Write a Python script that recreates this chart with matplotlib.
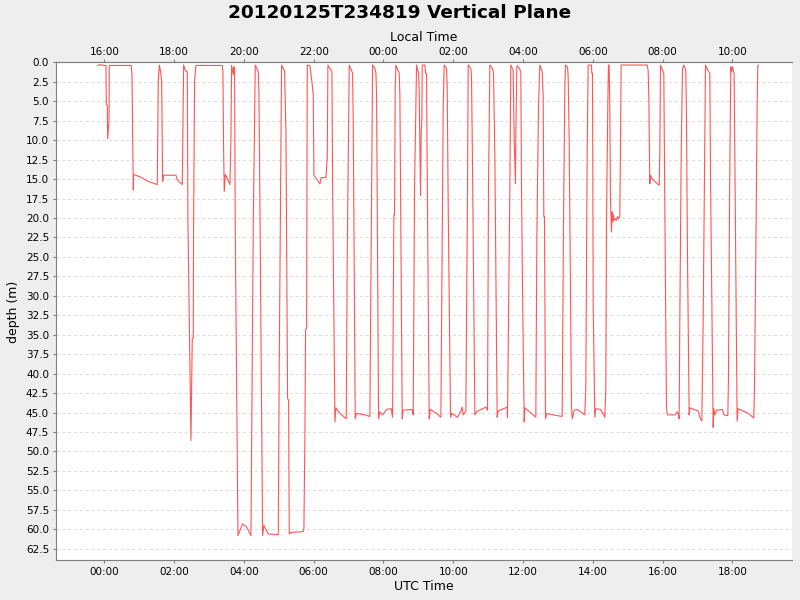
import numpy as np
import matplotlib.pyplot as plt

# hours since 2012-01-26 00:00 UTC, depth in metres
time_h = [
    -0.203, -0.098, 0.007, 0.046, 0.055, 0.084, 0.093, 0.132, 0.141, 0.771,
    0.791, 0.829, 0.838, 1.02, 1.26, 1.516, 1.545, 1.574, 1.603, 1.641,
    1.669, 1.698, 2.052, 2.09, 2.233, 2.252, 2.271, 2.328, 2.376, 2.395,
    2.481, 2.519, 2.548, 2.557, 2.586, 2.624, 3.379, 3.398, 3.417, 3.436,
    3.465, 3.503, 3.599, 3.627, 3.646, 3.694, 3.713, 3.732, 3.751, 3.828,
    3.962, 4.076, 4.201, 4.268, 4.325,
    4.363, 4.411, 4.430, 4.458, 4.535, 4.573, 4.697, 4.984, 5.012, 5.051,
    5.079, 5.165, 5.204, 5.251, 5.280, 5.299, 5.366, 5.700, 5.719, 5.748,
    5.767, 5.796, 5.815, 5.891, 5.949, 5.987, 6.006, 6.178, 6.216, 6.350,
    6.388, 6.407, 6.522, 6.541, 6.608, 6.637, 6.751, 6.933, 6.961, 7.018,
    7.114, 7.133, 7.190, 7.228, 7.467, 7.610, 7.639, 7.687, 7.754, 7.783,
    7.802, 7.859, 7.897, 7.974, 8.089, 8.222, 8.260, 8.298, 8.317, 8.336,
    8.355, 8.451, 8.470, 8.537, 8.566, 8.833, 8.852, 8.890, 8.948,
    8.976, 9.005, 9.024, 9.062, 9.081, 9.100, 9.110, 9.186, 9.205, 9.234,
    9.253, 9.310, 9.339, 9.520, 9.645, 9.683, 9.712, 9.740, 9.807, 9.826,
    9.855, 9.922, 9.950, 10.122, 10.218, 10.256, 10.285, 10.361, 10.380, 10.409,
    10.428, 10.504, 10.523, 10.552, 10.619, 10.667, 10.934, 10.982, 11.010, 11.049,
    11.125, 11.154, 11.192, 11.259, 11.288, 11.546, 11.555, 11.584, 11.622, 11.650,
    11.717, 11.746, 11.784, 11.794, 11.823, 11.842, 11.909, 11.937, 11.956, 11.985,
    12.033, 12.052, 12.243, 12.367, 12.396, 12.444, 12.482, 12.549, 12.577, 12.596,
    12.615, 12.644, 12.683, 12.864, 13.122, 13.160, 13.198, 13.217, 13.275, 13.294,
    13.322, 13.389, 13.409, 13.466, 13.561, 13.676,
    13.771, 13.799, 13.818, 13.838, 13.866, 13.962, 13.971, 13.990, 14.000, 14.010,
    14.057, 14.086, 14.220, 14.315, 14.344, 14.373, 14.392, 14.430, 14.449, 14.468,
    14.487, 14.506, 14.535, 14.554, 14.573, 14.592, 14.611, 14.640, 14.678, 14.707,
    14.735, 14.774, 14.793, 14.812, 15.557, 15.586, 15.605, 15.634, 15.653, 15.710,
    15.806, 15.902, 15.921, 15.940, 15.997, 16.035, 16.064, 16.112, 16.140, 16.351,
    16.418, 16.456, 16.475, 16.494, 16.533, 16.571, 16.609, 16.666, 16.686, 16.714,
    16.762, 16.781, 17.020, 17.067, 17.125, 17.163, 17.201, 17.230, 17.297, 17.354,
    17.373, 17.450, 17.469, 17.497, 17.545, 17.717, 17.755, 17.870, 17.889, 17.918,
    17.956, 17.975, 18.004, 18.032, 18.051, 18.080, 18.137, 18.166, 18.309, 18.453,
    18.615, 18.634, 18.672, 18.711, 18.730, 18.749,
]
depth_m = [
    0.39, 0.30, 0.39, 0.39, 5.4, 5.5, 9.8, 7.6, 0.39, 0.39,
    1.7, 16.4, 14.4, 14.7, 15.3, 15.7, 2.3, 0.34, 1.0, 2.3,
    15.3, 14.5, 14.5, 15.1, 15.7, 7.6, 0.34, 1.1, 1.2, 20.5,
    48.6, 35.4, 35.4, 20.5, 2.3, 0.39, 0.39, 1.2, 11.1, 16.6,
    14.4, 14.7, 15.7, 9.8, 0.39, 1.6, 0.56, 1.0, 21.1, 60.8,
    59.3, 59.7, 60.8, 20.5, 0.34,
    0.69, 1.2, 3.8, 18.3, 60.8, 59.5, 60.6, 60.7, 38.9, 16.2,
    0.34, 1.1, 8.9, 43.2, 43.4, 60.6, 60.4, 60.3, 59.9, 47.9,
    34.3, 34.2, 0.34, 0.43, 2.5, 4.2, 14.5, 15.6, 14.8, 14.8,
    12.3, 0.34, 1.2, 15.3, 46.2, 44.4, 45.1, 45.8, 24.8, 0.34,
    1.4, 7.6, 45.8, 45.1, 45.3, 45.5, 29.1, 0.34, 0.77, 1.4,
    4.2, 45.8, 44.9, 45.3, 44.6, 44.5, 45.6, 19.6, 19.6, 3.3,
    0.34, 1.4, 4.2, 45.8, 44.7, 44.6, 45.3, 16.2, 0.34,
    1.0, 1.2, 3.8, 17.1, 8.9, 7.6, 0.34, 0.34, 1.4, 1.4,
    13.6, 45.8, 44.6, 45.1, 45.6, 22.6, 5.9, 0.34, 0.77, 3.1,
    18.3, 45.6, 45.1, 45.6, 44.8, 44.3, 45.3, 44.8, 33.3, 16.2,
    0.34, 0.77, 1.8, 13.2, 45.3, 44.9, 44.3, 44.7, 16.2, 0.34,
    0.77, 1.4, 11.9, 45.6, 44.8, 44.3, 45.6, 33.3, 16.2, 0.34,
    1.0, 9.8, 15.6, 8.9, 0.56, 0.43, 0.86, 1.4, 15.8, 29.1,
    46.2, 44.4, 45.1, 45.6, 22.6, 5.5, 0.34, 1.2, 4.2, 19.8,
    19.8, 45.8, 45.1, 45.3, 45.5, 20.5, 3.3, 0.34, 0.56, 1.8,
    9.8, 44.1, 45.8, 44.7, 44.6, 45.0,
    45.3, 41.9, 27.3, 11.9, 0.34, 0.34, 1.4, 1.4, 13.2, 30.8,
    45.6, 44.5, 44.6, 45.3, 45.6, 41.9, 20.5, 5.5, 0.34, 0.34,
    5.5, 17.5, 21.8, 19.2, 20.5, 19.6, 20.3, 20.1, 20.3, 19.8,
    20.1, 19.8, 11.5, 0.34, 0.34, 1.0, 4.2, 15.6, 14.5, 15.0,
    15.4, 15.8, 11.9, 0.34, 1.0, 1.4, 18.3, 44.4, 45.3, 45.3,
    44.9, 45.3, 45.8, 33.3, 11.9, 0.77, 0.34, 1.0, 7.6, 24.8,
    45.3, 44.4, 44.8, 45.6, 46.1, 33.3, 14.1, 0.34, 1.0, 1.4,
    14.1, 46.9, 44.5, 45.3, 44.7, 44.6, 45.3, 45.4, 40.5, 18.3,
    0.56, 1.2, 0.56, 1.2, 1.4, 16.2, 46.1, 44.5, 44.8, 45.1,
    45.7, 41.9, 24.8, 5.5, 0.43, 0.34,
]

utc_ticks = [0, 2, 4, 6, 8, 10, 12, 14, 16, 18]
utc_labels = ['00:00', '02:00', '04:00', '06:00', '08:00', '10:00',
              '12:00', '14:00', '16:00', '18:00']
local_labels = ['16:00', '18:00', '20:00', '22:00', '00:00', '02:00',
                '04:00', '06:00', '08:00', '10:00']
depth_ticks = np.arange(0, 63, 2.5)

fig = plt.figure(figsize=(8, 6), dpi=100, facecolor='#eeeeee')
ax = fig.add_axes([0.07, 0.066, 0.92, 0.830])
ax.set_facecolor('white')

ax.plot(time_h, depth_m, color='#ff5555', lw=0.8)

ax.set_xlim(-1.387, 19.71)
ax.set_ylim(64.0, 0)

ax.set_yticks(depth_ticks)
ax.set_yticklabels([f'{v:.1f}' for v in depth_ticks])
ax.set_xticks(utc_ticks)
ax.set_xticklabels(utc_labels)
ax.yaxis.grid(True, color='#dadada', linestyle=(0, (3, 3)), lw=0.7)
ax.set_axisbelow(True)

for s in ['left', 'bottom', 'top']:
    ax.spines[s].set_color('#808080')
ax.spines['right'].set_visible(False)
ax.tick_params(axis='both', labelsize=7.5, length=2, color='#808080', pad=3)

top = ax.secondary_xaxis('top')
top.set_xticks(utc_ticks)
top.set_xticklabels(local_labels)
top.tick_params(labelsize=7.5, length=2, color='#808080', pad=2)
top.spines['top'].set_color('#808080')
top.set_xlabel('Local Time', fontsize=9, labelpad=4)

ax.set_xlabel('UTC Time', fontsize=9, labelpad=2)
ax.set_ylabel('depth (m)', fontsize=9, labelpad=4)
fig.suptitle('20120125T234819 Vertical Plane', fontsize=13.3, fontweight='bold', y=0.993)

fig.savefig('out.png', dpi=100, facecolor=fig.get_facecolor())
